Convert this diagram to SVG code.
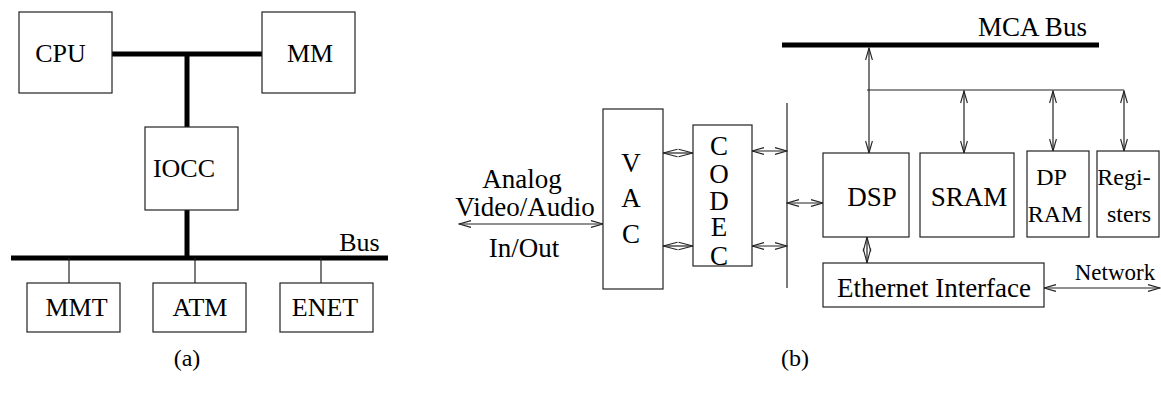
<svg xmlns="http://www.w3.org/2000/svg" width="1161" height="396" viewBox="0 0 1161 396">
<style>
.box{fill:#fff;stroke:#222;stroke-width:1.2}
.thick{stroke:#000;stroke-width:5;fill:none}
.thin{stroke:#222;stroke-width:1.2;fill:none}
.arr{stroke:#222;stroke-width:1.2;fill:none;marker-start:url(#ah);marker-end:url(#ah)}
.dia{stroke:#222;stroke-width:1.2;fill:none;marker-start:url(#dh);marker-end:url(#dh)}
text{font-family:"Liberation Serif","Times New Roman",serif;fill:#000;text-anchor:middle}
.l{font-size:26px}
.r{font-size:27px}
.s{font-size:24px}
.n{font-size:23px}
</style>
<defs>
<marker id="ah" markerUnits="userSpaceOnUse" markerWidth="14" markerHeight="10" viewBox="0 0 14 10" refX="13" refY="5" orient="auto-start-reverse">
<path d="M1,1.6 L13,5 L1,8.4" fill="none" stroke="#222" stroke-width="1.1"/>
</marker>
<marker id="dh" markerUnits="userSpaceOnUse" markerWidth="16" markerHeight="10" viewBox="0 0 16 10" refX="15" refY="5" orient="auto-start-reverse">
<path d="M0.5,1.2 L15,5 L0.5,8.8" fill="none" stroke="#222" stroke-width="1.1"/>
</marker>
</defs>

<g id="connectors">
<line class="thick" x1="112" y1="54" x2="262" y2="54"/>
<line class="thick" x1="187" y1="54" x2="187" y2="127"/>
<line class="thick" x1="187" y1="210" x2="187" y2="258"/>
<line class="thick" x1="11" y1="258" x2="388" y2="258"/>
<line class="thin" x1="69" y1="258" x2="69" y2="283"/>
<line class="thin" x1="195" y1="258" x2="195" y2="283"/>
<line class="thin" x1="321" y1="258" x2="321" y2="283"/>
<line class="thick" x1="782" y1="45" x2="1099" y2="45"/>
<line class="arr" x1="869" y1="48" x2="869" y2="153"/>
<line class="thin" x1="867" y1="90" x2="1124" y2="90"/>
<line class="arr" x1="964" y1="91" x2="964" y2="153"/>
<line class="arr" x1="1053" y1="91" x2="1053" y2="151"/>
<line class="arr" x1="1124" y1="91" x2="1124" y2="151"/>
<line class="thin" x1="787" y1="103" x2="787" y2="288"/>
<line class="arr" x1="787" y1="203" x2="823" y2="203"/>
<line class="arr" x1="752" y1="151" x2="787" y2="151"/>
<line class="arr" x1="752" y1="246" x2="787" y2="246"/>
<line class="dia" x1="663" y1="153" x2="693" y2="153"/>
<line class="dia" x1="663" y1="246" x2="693" y2="246"/>
<line class="dia" x1="867" y1="237" x2="867" y2="263"/>
<line class="arr" x1="459" y1="224" x2="603" y2="224"/>
<line class="arr" x1="1044" y1="288" x2="1160" y2="288"/>
</g>

<g id="cpu"><rect class="box" x="19" y="12" width="93" height="81"/><text class="l" x="60.5" y="62">CPU</text></g>
<g id="mm"><rect class="box" x="262" y="12" width="93" height="81"/><text class="l" x="310" y="62">MM</text></g>
<g id="iocc"><rect class="box" x="145" y="127" width="93" height="83"/><text class="l" x="184" y="177">IOCC</text></g>
<g id="bus-label"><text class="l" x="359.5" y="251">Bus</text></g>
<g id="mmt"><rect class="box" x="27" y="283" width="93" height="49"/><text class="l" x="76.5" y="316">MMT</text></g>
<g id="atm"><rect class="box" x="153" y="283" width="93" height="49"/><text class="l" x="200" y="316">ATM</text></g>
<g id="enet"><rect class="box" x="280" y="283" width="93" height="49"/><text class="l" x="325" y="316">ENET</text></g>
<g id="caption-a"><text class="s" x="187" y="366">(a)</text></g>

<g id="mca-label"><text class="r" x="1032.5" y="36">MCA Bus</text></g>
<g id="analog"><text class="r" x="522" y="188">Analog</text><text class="r" x="525" y="216">Video/Audio</text><text class="r" x="524" y="257">In/Out</text></g>
<g id="vac"><rect class="box" x="603" y="109" width="60" height="180"/><text class="r"><tspan x="631" y="172">V</tspan><tspan x="631" y="207">A</tspan><tspan x="631" y="243">C</tspan></text></g>
<g id="codec"><rect class="box" x="693" y="125" width="59" height="141"/><text class="r"><tspan x="719" y="155">C</tspan><tspan x="719" y="183">O</tspan><tspan x="719" y="210">D</tspan><tspan x="719" y="236">E</tspan><tspan x="719" y="265">C</tspan></text></g>
<g id="dsp"><rect class="box" x="823" y="153" width="86" height="84"/><text class="r" x="872" y="206">DSP</text></g>
<g id="sram"><rect class="box" x="920" y="153" width="94" height="84"/><text class="r" x="969" y="206">SRAM</text></g>
<g id="dpram"><rect class="box" x="1027" y="151" width="62" height="86"/><text class="s" x="1051.5" y="185">DP</text><text class="s" x="1055" y="222">RAM</text></g>
<g id="registers"><rect class="box" x="1097" y="151" width="62" height="86"/><text class="s" x="1124" y="185">Regi-</text><text class="s" x="1129" y="222">sters</text></g>
<g id="ethernet"><rect class="box" x="823" y="263" width="221" height="44"/><text class="r" x="934" y="297">Ethernet Interface</text></g>
<g id="network-label"><text class="n" x="1115" y="280">Network</text></g>
<g id="caption-b"><text class="s" x="795" y="366">(b)</text></g>
</svg>
